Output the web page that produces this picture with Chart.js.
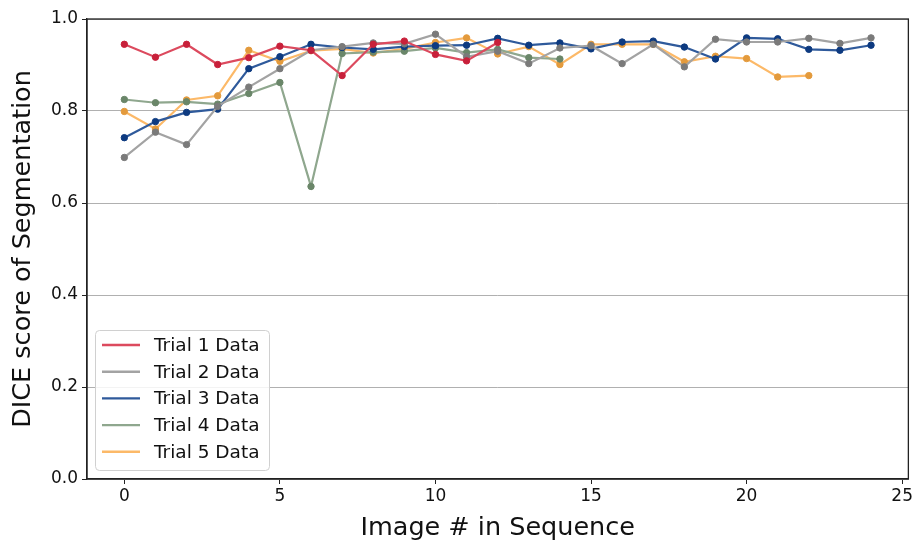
<!DOCTYPE html>
<html>
<head>
<meta charset="utf-8">
<title>DICE score per image</title>
<script src="https://cdn.jsdelivr.net/npm/chart.js@4"></script>
<style>
    html, body { margin: 0; padding: 0; background: #fff; }
    #wrap { width: 915px; height: 542px; }
</style>
</head>
<body>
<div id="wrap"><canvas id="diceChart" width="915" height="542"></canvas></div>
<script>
// Chart data
const imageIdx = [0, 1, 2, 3, 4, 5, 6, 7, 8, 9, 10, 11, 12, 13, 14, 15, 16, 17, 18, 19, 20, 21, 22, 23, 24];
const trial1 = [0.945, 0.917, 0.945, 0.901, 0.916, 0.941, 0.932, 0.877, 0.945, 0.952, 0.923, 0.909, 0.949];
const trial2 = [0.699, 0.754, 0.727, 0.810, 0.852, 0.892, 0.932, 0.940, 0.948, 0.946, 0.967, 0.918, 0.930,
                0.903, 0.937, 0.942, 0.903, 0.945, 0.896, 0.956, 0.950, 0.950, 0.958, 0.947, 0.959];
const trial3 = [0.742, 0.777, 0.797, 0.804, 0.892, 0.918, 0.945, 0.938, 0.934, 0.940, 0.942, 0.943, 0.958,
                0.943, 0.948, 0.935, 0.950, 0.952, 0.939, 0.913, 0.959, 0.957, 0.934, 0.932, 0.943];
const trial4 = [0.825, 0.818, 0.820, 0.815, 0.838, 0.862, 0.636, 0.925, 0.928, 0.930, 0.937, 0.927, 0.934,
                0.916, 0.913];
const trial5 = [0.799, 0.761, 0.824, 0.833, 0.932, 0.908, 0.931, 0.935, 0.926, 0.935, 0.949, 0.959, 0.924,
                0.940, 0.901, 0.945, 0.945, 0.945, 0.907, 0.919, 0.914, 0.874, 0.877];
const seriesNames = ['Trial 1 Data', 'Trial 2 Data', 'Trial 3 Data', 'Trial 4 Data', 'Trial 5 Data'];
const xTicks = [0, 5, 10, 15, 20, 25];
const yTicks = [0.0, 0.2, 0.4, 0.6, 0.8, 1.0];

const lineColors  = ['#dc4a5e', '#a3a3a3', '#2f5a9b', '#8fa78e', '#fcb968'];
const pointColors = ['#c8203a', '#7a7a7a', '#0d3a80', '#6a8669', '#e39a3c'];
const FONT = "'DejaVu Sans', sans-serif";

function makeDataset(i, values) {
    return {
        label: seriesNames[i],
        data: values,
        borderColor: lineColors[i],
        backgroundColor: lineColors[i],
        pointBackgroundColor: pointColors[i],
        pointBorderColor: pointColors[i],
        pointRadius: 3.2,
        pointBorderWidth: 1,
        borderWidth: 2.2,
        tension: 0,
        fill: false
    };
}

// Box around the plot area (matplotlib style spines)
const frame = {
    id: 'frame',
    afterDraw(chart) {
        const a = chart.chartArea;
        const ctx = chart.ctx;
        ctx.save();
        ctx.strokeStyle = '#222';
        ctx.lineWidth = 1.3;
        ctx.strokeRect(a.left, a.top, a.right - a.left, a.bottom - a.top);
        ctx.restore();
    }
};

// Legend drawn inside the plot, lower left
const insideLegend = {
    id: 'insideLegend',
    afterDraw(chart) {
        const ctx = chart.ctx;
        const a = chart.chartArea;
        const x = a.left + 8, y = a.bottom - 149, w = 174, h = 140;
        ctx.save();
        ctx.fillStyle = 'rgba(255,255,255,0.85)';
        ctx.strokeStyle = '#d0d0d0';
        ctx.lineWidth = 1;
        ctx.beginPath();
        ctx.roundRect(x + 0.5, y + 0.5, w, h, 4);
        ctx.fill();
        ctx.stroke();
        ctx.font = '18.5px ' + FONT;
        ctx.textBaseline = 'middle';
        chart.data.datasets.forEach((ds, i) => {
            const ry = y + 15 + i * 26.7;
            ctx.strokeStyle = ds.borderColor;
            ctx.lineWidth = 2.4;
            ctx.beginPath();
            ctx.moveTo(x + 7, ry);
            ctx.lineTo(x + 45, ry);
            ctx.stroke();
            ctx.fillStyle = '#111';
            ctx.fillText(ds.label, x + 59, ry + 1);
        });
        ctx.restore();
    }
};

new Chart(document.getElementById('diceChart'), {
    type: 'line',
    data: {
        labels: imageIdx,
        datasets: [trial1, trial2, trial3, trial4, trial5].map((v, i) => makeDataset(i, v))
    },
    options: {
        responsive: false,
        animation: false,
        layout: { padding: { top: 19, right: 5, left: 0, bottom: 0 } },
        plugins: {
            legend: { display: false },
            tooltip: { enabled: false }
        },
        scales: {
            x: {
                type: 'linear',
                min: -1.2,
                max: 25.2,
                afterBuildTicks(scale) {
                    scale.ticks = xTicks.map(v => ({ value: v }));
                },
                afterFit(scale) { scale.height = 63; },
                grid: {
                    drawOnChartArea: false,
                    tickColor: '#222',
                    tickLength: 5
                },
                border: { color: '#222', width: 1.3 },
                ticks: {
                    color: '#111',
                    font: { family: FONT, size: 17 },
                    padding: 2,
                    maxRotation: 0
                },
                title: {
                    display: true,
                    text: 'Image # in Sequence',
                    color: '#111',
                    font: { family: FONT, size: 25.5 },
                    padding: { top: 0, bottom: -2 }
                }
            },
            y: {
                min: 0,
                max: 1.0,
                afterBuildTicks(scale) {
                    scale.ticks = yTicks.map(v => ({ value: v }));
                },
                afterFit(scale) { scale.width = 87; },
                grid: {
                    color: '#b0b0b0',
                    lineWidth: 1,
                    tickColor: '#222',
                    tickLength: 5
                },
                border: { color: '#222', width: 1.3 },
                ticks: {
                    color: '#111',
                    font: { family: FONT, size: 17 },
                    padding: 4,
                    callback: v => v.toFixed(1)
                },
                title: {
                    display: true,
                    text: 'DICE score of Segmentation',
                    color: '#111',
                    font: { family: FONT, size: 25.5 },
                    padding: { top: 8, bottom: 0 }
                }
            }
        }
    },
    plugins: [frame, insideLegend]
});
</script>
</body>
</html>
